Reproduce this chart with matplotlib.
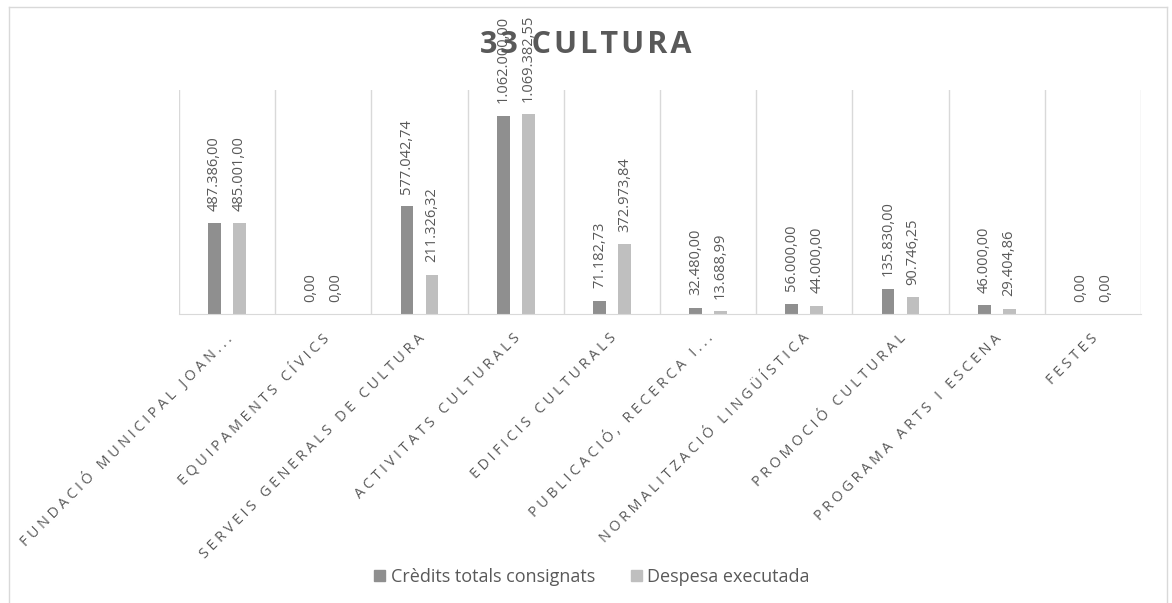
import numpy as np
import matplotlib.pyplot as plt
from matplotlib.lines import Line2D
from matplotlib.patches import Patch
import matplotlib.transforms as mtransforms

plt.rcParams['font.family'] = ['Open Sans', 'DejaVu Sans']

categories = ['FUNDACIÓ MUNICIPAL JOAN...', 'EQUIPAMENTS CÍVICS', 'SERVEIS GENERALS DE CULTURA',
              'ACTIVITATS CULTURALS', 'EDIFICIS CULTURALS', 'PUBLICACIÓ, RECERCA I...',
              'NORMALITZACIÓ LINGÜÍSTICA', 'PROMOCIÓ CULTURAL', 'PROGRAMA ARTS I ESCENA', 'FESTES']
credits = [487386.00, 0.00, 577042.74, 1062000.00, 71182.73, 32480.00, 56000.00, 135830.00, 46000.00, 0.00]
despesa = [485001.00, 0.00, 211326.32, 1069382.55, 372973.84, 13688.99, 44000.00, 90746.25, 29404.86, 0.00]
series_names = ['Crèdits totals consignats', 'Despesa executada']

dark = '#8f8f8f'
light = '#bfbfbf'
txt = '#595959'
grid = '#d9d9d9'


def fmt(v):
    s = f"{v:,.2f}"
    return s.replace(',', 'X').replace('.', ',').replace('X', '.')


def spaced(s, sep='\u2005'):
    return sep.join(s)


fig = plt.figure(figsize=(11.72, 6.03), dpi=100)
ax = fig.add_axes([179 / 1172, 1 - 314 / 603, (1141 - 179) / 1172, (314 - 90) / 603])

x = np.arange(len(categories))
w = 0.135
off = 0.13
b1 = ax.bar(x - off, credits, w, color=dark, zorder=2)
b2 = ax.bar(x + off, despesa, w, color=light, zorder=2)

ax.set_xlim(-0.5, len(categories) - 0.5)
ax.set_ylim(0, 1200000)
for b in np.arange(-0.5, len(categories), 1.0):
    ax.axvline(b, color=grid, lw=1, zorder=1)
for s in ['top', 'right', 'left']:
    ax.spines[s].set_visible(False)
ax.spines['bottom'].set_color(grid)
ax.set_yticks([])
ax.set_xticks([])

lab_off = mtransforms.offset_copy(ax.transData, fig=fig, x=0, y=9, units='points')
for bars, vals in [(b1, credits), (b2, despesa)]:
    for r, v in zip(bars, vals):
        ax.text(r.get_x() + r.get_width() / 2, v, fmt(v), rotation=90, ha='center', va='bottom',
                fontsize=10.5, color=txt, transform=lab_off, zorder=3)

cat_tr = mtransforms.offset_copy(ax.get_xaxis_transform(), fig=fig, x=2, y=-16, units='points')
for i, c in enumerate(categories):
    ax.text(i, 0, spaced(c), rotation=45, rotation_mode='anchor', ha='right', va='center',
            fontsize=10.4, color=txt, transform=cat_tr)

fig.text(586 / 1172, 1 - 45 / 603, spaced('33 CULTURA', '\u200a'), ha='center', va='center',
         fontsize=22, fontweight='bold', color=txt, zorder=5)

handles = [Patch(color=dark), Patch(color=light)]
fig.legend(handles, series_names, loc='center', bbox_to_anchor=(592 / 1172, 1 - 577 / 603),
           ncol=2, frameon=False, fontsize=13, labelcolor=txt, handlelength=0.6, handleheight=0.6,
           handletextpad=0.3, columnspacing=2.0)

# outer chart frame
fx0, fx1, fy1 = 8.5 / 1172, 1166.5 / 1172, 1 - 6.5 / 603
fig.add_artist(Line2D([fx0, fx0], [0, fy1], color=grid, lw=1, transform=fig.transFigure))
fig.add_artist(Line2D([fx1, fx1], [0, fy1], color=grid, lw=1, transform=fig.transFigure))
fig.add_artist(Line2D([fx0, fx1], [fy1, fy1], color=grid, lw=1, transform=fig.transFigure))

fig.savefig('out.png', dpi=100)
